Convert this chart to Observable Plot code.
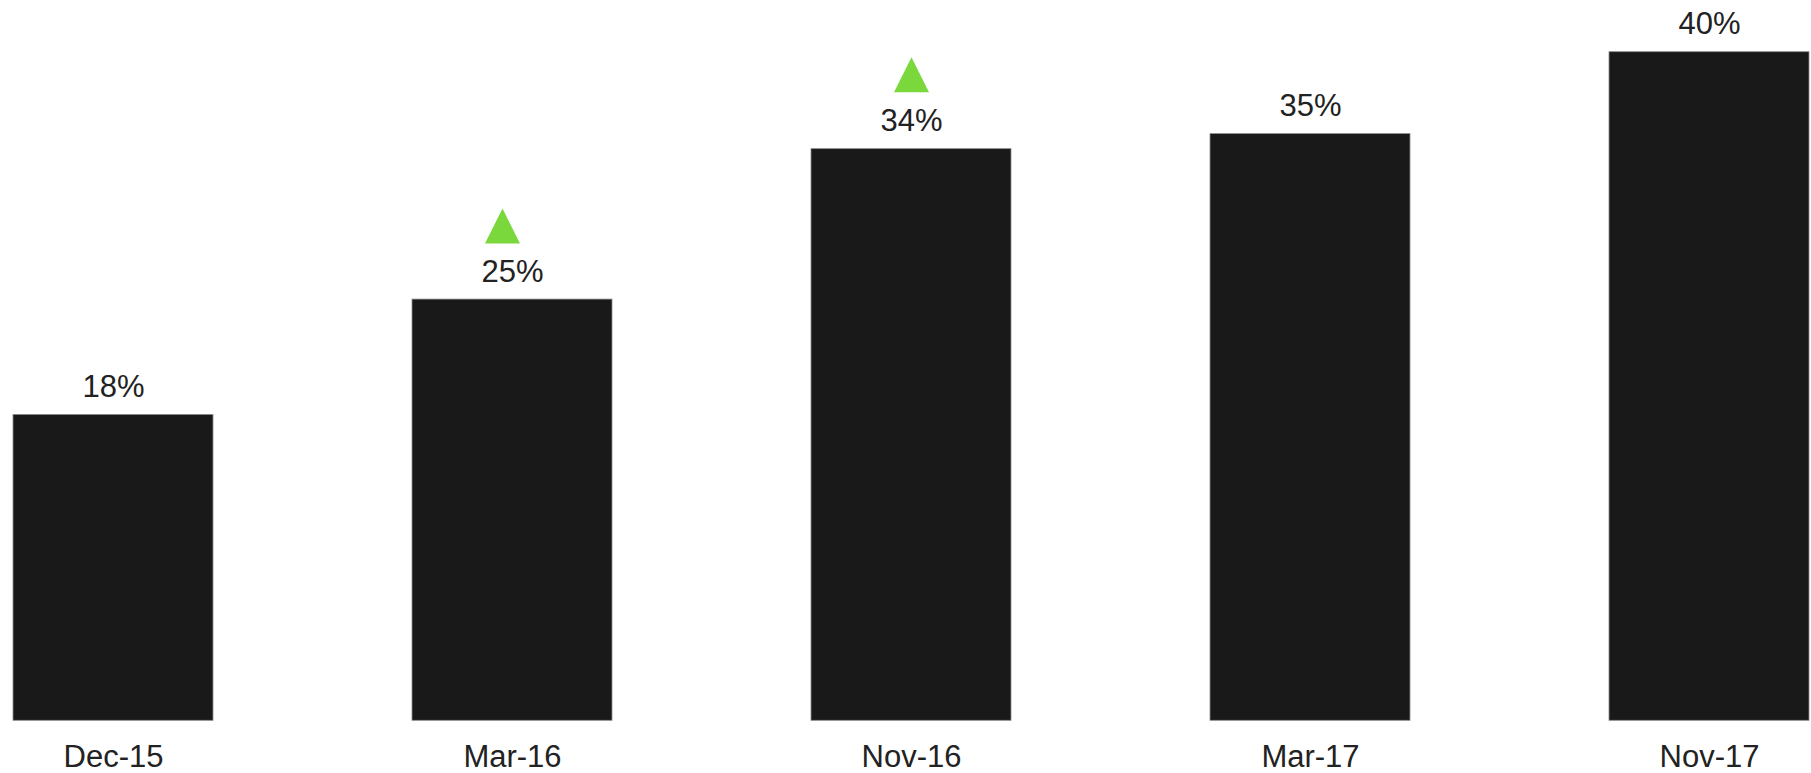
<!DOCTYPE html>
<html>
<head>
<meta charset="utf-8">
<script src="https://cdn.jsdelivr.net/npm/d3@7"></script>
<script src="https://cdn.jsdelivr.net/npm/@observablehq/plot@0.6"></script>
<style>
  html, body { margin: 0; padding: 0; background: #fff; }
  #chart svg { display: block; }
</style>
</head>
<body>
<div id="chart"></div>
<script>
const categories = ["Dec-15", "Mar-16", "Nov-16", "Mar-17", "Nov-17"];
const values = [18.3, 25.2, 34.2, 35.1, 40.0];
const labels = ["18%", "25%", "34%", "35%", "40%"];
const upMarkers = ["Mar-16", "Nov-16"];

const data = categories.map((c, i) => ({ cat: c, value: values[i], label: labels[i] }));

const tri = {
  draw(context, size) {
    const r = Math.sqrt(size / Math.PI);
    context.moveTo(0, -r);
    context.lineTo(r, r);
    context.lineTo(-r, r);
    context.closePath();
  }
};

const chart = Plot.plot({
  width: 1811,
  height: 773,
  marginTop: 51.7,
  marginBottom: 52.7,
  marginLeft: 12.7,
  marginRight: 1.7,
  style: { fontFamily: "'Liberation Sans', Arial, sans-serif", color: "#222", background: "#fff" },
  x: { domain: categories, paddingInner: 0.5, paddingOuter: 0, label: null },
  y: { domain: [0, 40], axis: null },
  marks: [
    Plot.barY(data, { x: "cat", y: "value", fill: "#191919", stroke: "#8a8a8a", strokeWidth: 0.8 }),
    Plot.text(data, { x: "cat", y: "value", text: "label", lineAnchor: "bottom", dy: -18, fontSize: 31, fill: "#222" }),
    Plot.dot(data.filter(d => d.cat === upMarkers[0]), { x: "cat", y: "value", symbol: tri, r: 17.5, fill: "#7ad83c", stroke: "none", dy: -73.5, dx: -10 }),
    Plot.dot(data.filter(d => d.cat === upMarkers[1]), { x: "cat", y: "value", symbol: tri, r: 17.5, fill: "#7ad83c", stroke: "none", dy: -74.5 }),
    Plot.axisX({ tickSize: 0, tickPadding: 24, fontSize: 31, fill: "#222", label: null })
  ]
});
document.getElementById("chart").appendChild(chart);
</script>
</body>
</html>
